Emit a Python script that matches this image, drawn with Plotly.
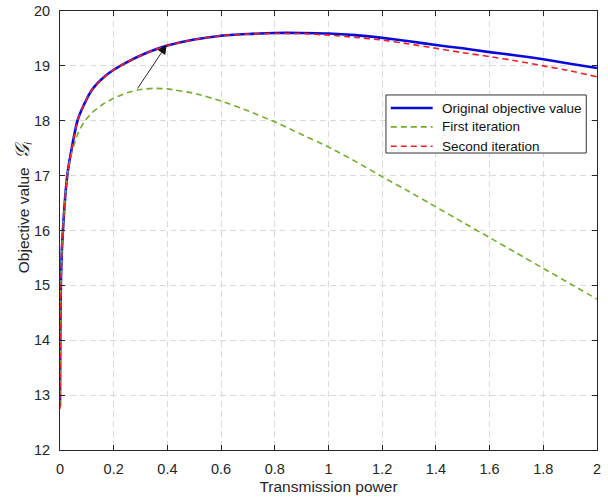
import plotly.graph_objects as go

power = [0, 0.001, 0.002, 0.004, 0.007, 0.011, 0.016, 0.027, 0.04, 0.065, 0.09, 0.12,
         0.16, 0.2, 0.25, 0.3, 0.35, 0.4, 0.5, 0.6, 0.7, 0.8, 0.9, 1.0, 1.1, 1.2, 1.3,
         1.4, 1.5, 1.6, 1.7, 1.8, 1.9, 2.0]

original = [12.8, 14.0, 14.6, 15.2, 15.65, 16.0, 16.4, 17.0, 17.4, 18.0, 18.3, 18.57,
            18.78, 18.93, 19.07, 19.19, 19.29, 19.37, 19.48, 19.55, 19.58, 19.6, 19.6,
            19.59, 19.56, 19.51, 19.45, 19.38, 19.32, 19.25, 19.19, 19.12, 19.04, 18.96]

first_iter = [12.8, 14.0, 14.6, 15.2, 15.65, 16.0, 16.4, 17.0, 17.35, 17.75, 17.98, 18.15,
              18.3, 18.41, 18.51, 18.57, 18.59, 18.58, 18.5, 18.36, 18.18, 17.98, 17.75,
              17.52, 17.26, 16.98, 16.71, 16.43, 16.15, 15.87, 15.59, 15.31, 15.03, 14.75]

second_iter = [12.75, 14.0, 14.6, 15.2, 15.65, 16.0, 16.4, 17.0, 17.4, 18.0, 18.3, 18.57,
               18.78, 18.93, 19.07, 19.19, 19.29, 19.37, 19.48, 19.55, 19.58, 19.59, 19.59,
               19.56, 19.52, 19.47, 19.40, 19.32, 19.24, 19.17, 19.09, 19.0, 18.91, 18.8]

series_names = ["Original objective value", "First iteration", "Second iteration"]

x_ticks = [0, 0.2, 0.4, 0.6, 0.8, 1, 1.2, 1.4, 1.6, 1.8, 2]
x_tick_labels = ["0", "0.2", "0.4", "0.6", "0.8", "1", "1.2", "1.4", "1.6", "1.8", "2"]
y_ticks = [12, 13, 14, 15, 16, 17, 18, 19, 20]

x_title = "Transmission power"
y_title = "Objective value  <span style='font-size:20px'><i>𝒢</i></span><sub><i>i</i></sub>"

arrow_tail = (0.285, 18.56)
arrow_head = (0.397, 19.38)

FONT = "Arial, Liberation Sans, sans-serif"
styles = [dict(color="#0a0ad8", width=2.6),
          dict(color="#77ac30", width=1.6, dash="6px,4px"),
          dict(color="#f0202a", width=1.6, dash="6px,4px")]

fig = go.Figure()
for name, ys, st in zip(series_names, [original, first_iter, second_iter], styles):
    fig.add_trace(go.Scatter(x=power, y=ys, mode="lines", name=name, showlegend=False,
                             line=dict(shape="spline", smoothing=0.5, **st)))

fig.add_annotation(x=arrow_head[0], y=arrow_head[1], ax=arrow_tail[0], ay=arrow_tail[1],
                   xref="x", yref="y", axref="x", ayref="y", text="", showarrow=True,
                   arrowhead=2, arrowsize=2.0, arrowwidth=0.9, arrowcolor="#111111")

# legend box drawn in axis-domain coordinates
box_x0, box_x1, box_y0, box_y1 = 0.607, 0.980, 0.6765, 0.8087
fig.add_shape(type="rect", xref="x domain", yref="y domain",
              x0=box_x0, x1=box_x1, y0=box_y0, y1=box_y1,
              line=dict(color="#333333", width=1), fillcolor="white", layer="above")
row_y = [0.779, 0.736, 0.692]
for name, st, ry in zip(series_names, styles, row_y):
    fig.add_shape(type="line", xref="x domain", yref="y domain",
                  x0=0.616, x1=0.694, y0=ry, y1=ry, line=st, layer="above")
    fig.add_annotation(xref="x domain", yref="y domain", x=0.7076, y=ry, text=name,
                       showarrow=False, xanchor="left", yanchor="middle",
                       font=dict(family=FONT, size=13.5, color="#111111"))

# y-axis title as a rotated annotation (positioned like the reference)
fig.add_annotation(xref="paper", yref="paper", x=-0.071, y=0.555, text=y_title,
                   textangle=-90, showarrow=False, xanchor="center", yanchor="middle",
                   font=dict(family=FONT, size=15.5, color="#262626"))

axis_common = dict(showline=True, linecolor="#262626", linewidth=1, mirror="ticks",
                   ticks="inside", ticklen=5, tickcolor="#262626", automargin=False,
                   showgrid=True, gridcolor="#d9d9d9", griddash="6px,4px", gridwidth=1,
                   zeroline=False, tickfont=dict(family=FONT, size=14.5, color="#262626"))

fig.update_xaxes(range=[0, 2], tickvals=x_ticks, ticktext=x_tick_labels, ticklabelstandoff=6,
                 title=dict(text=x_title, standoff=4,
                            font=dict(family=FONT, size=15.5, color="#262626")),
                 **axis_common)
fig.update_yaxes(range=[12, 20], tickvals=y_ticks, ticklabelstandoff=6, **axis_common)

fig.update_layout(
    width=608, height=499,
    margin=dict(l=60, r=11, t=11, b=49),
    paper_bgcolor="white", plot_bgcolor="white",
    font=dict(family=FONT, color="#262626"),
    showlegend=False,
)

fig.write_html("out.html", config={"displayModeBar": False},
               post_script="document.body.style.margin='0';document.body.style.overflow='hidden';")
